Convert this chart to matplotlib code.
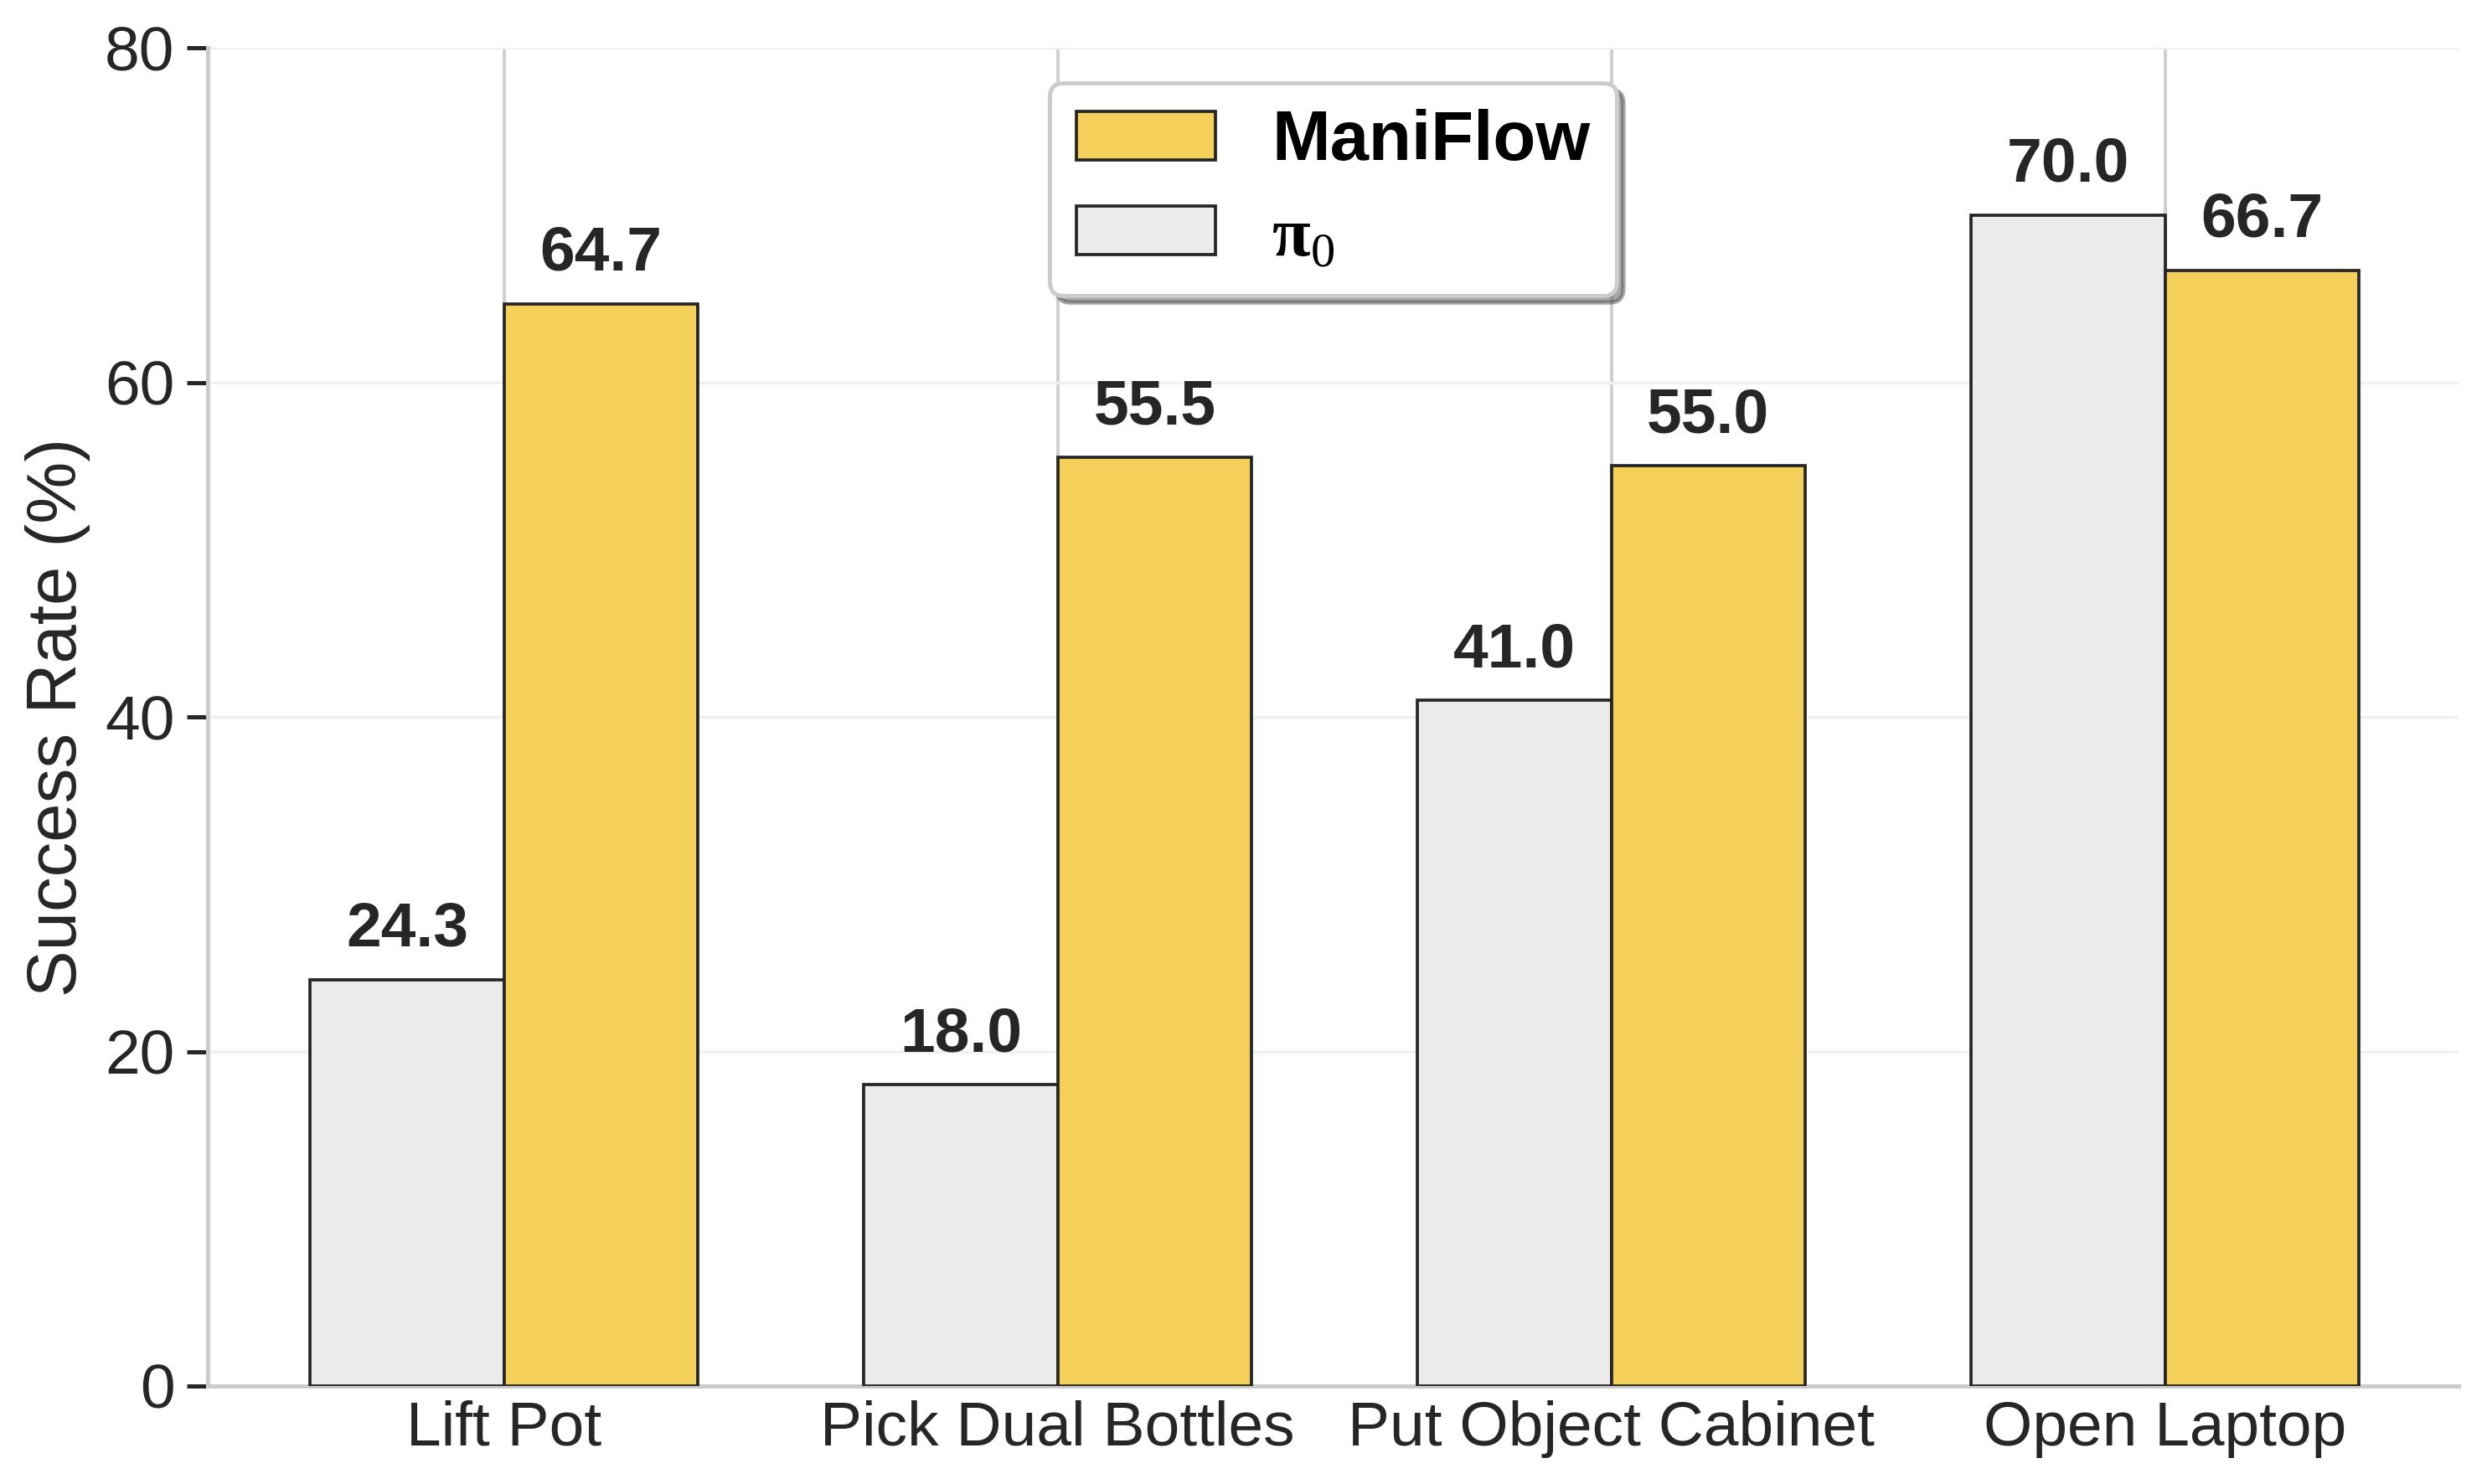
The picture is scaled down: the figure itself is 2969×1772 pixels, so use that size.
import matplotlib
matplotlib.use("Agg")
import matplotlib.pyplot as plt
import numpy as np

tasks = ["Lift Pot", "Pick Dual Bottles", "Put Object Cabinet", "Open Laptop"]
maniflow = [64.7, 55.5, 55.0, 66.7]
pi0 = [24.3, 18.0, 41.0, 70.0]
yticks = [0, 20, 40, 60, 80]

plt.rcParams['font.family'] = ['Liberation Sans', 'DejaVu Sans']
plt.rcParams['mathtext.fontset'] = 'custom'
plt.rcParams['mathtext.bf'] = 'Liberation Serif:bold'
plt.rcParams['mathtext.rm'] = 'Liberation Serif'

fig = plt.figure(figsize=(2969/300, 1772/300), dpi=300)
ax = fig.add_axes([248/2969, 1 - 1655/1772, (2935-248)/2969, (1655-57)/1772])

x = np.arange(len(tasks))
w = 0.35
b_pi = ax.bar(x - w/2, pi0, w, color="#ebebeb", edgecolor="#262626", linewidth=0.9,
              label=r"$\mathbf{\pi}_\mathrm{0}$", zorder=3)
b_mf = ax.bar(x + w/2, maniflow, w, color="#f4cf5a", edgecolor="#262626", linewidth=0.9,
              label="ManiFlow", zorder=3)

for bars, vals in [(b_pi, pi0), (b_mf, maniflow)]:
    for rect, v in zip(bars, vals):
        ax.annotate(f"{v:.1f}", (rect.get_x() + rect.get_width()/2, v),
                    xytext=(0, 6), textcoords="offset points",
                    ha="center", va="bottom", fontsize=18, fontweight="bold",
                    color="#262626")

ax.set_xlim(-0.535, 3.53)
ax.set_ylim(0, 80)
ax.set_yticks(yticks)
ax.set_xticks(x)
ax.set_xticklabels(tasks, fontsize=18, color="#262626")
ax.tick_params(axis="y", labelsize=18, labelcolor="#262626", length=6, width=1.2,
               color="#262626")
ax.tick_params(axis="x", length=0, pad=4)
ax.set_ylabel("Success Rate (%)", fontsize=20, color="#262626")

ax.grid(axis="x", color="#d0d0d0", linewidth=1.0, zorder=0)
ax.grid(axis="y", color="#f0f0f0", linewidth=0.8, zorder=0)
ax.set_axisbelow(True)
for s in ["top", "right"]:
    ax.spines[s].set_visible(False)
for s in ["left", "bottom"]:
    ax.spines[s].set_color("#cccccc")
    ax.spines[s].set_linewidth(1.2)

leg = ax.legend(handles=[b_mf, b_pi], loc="upper left", bbox_to_anchor=(0.374, 0.974),
                prop={"weight": "bold", "size": 20}, frameon=True,
                fancybox=True, shadow=True, handlelength=2.0, handletextpad=0.8,
                labelspacing=0.42, borderpad=0.38, borderaxespad=0)
leg.get_frame().set_edgecolor("#cccccc")
leg.get_frame().set_linewidth(1.2)

fig.savefig("out.png", dpi=300)
